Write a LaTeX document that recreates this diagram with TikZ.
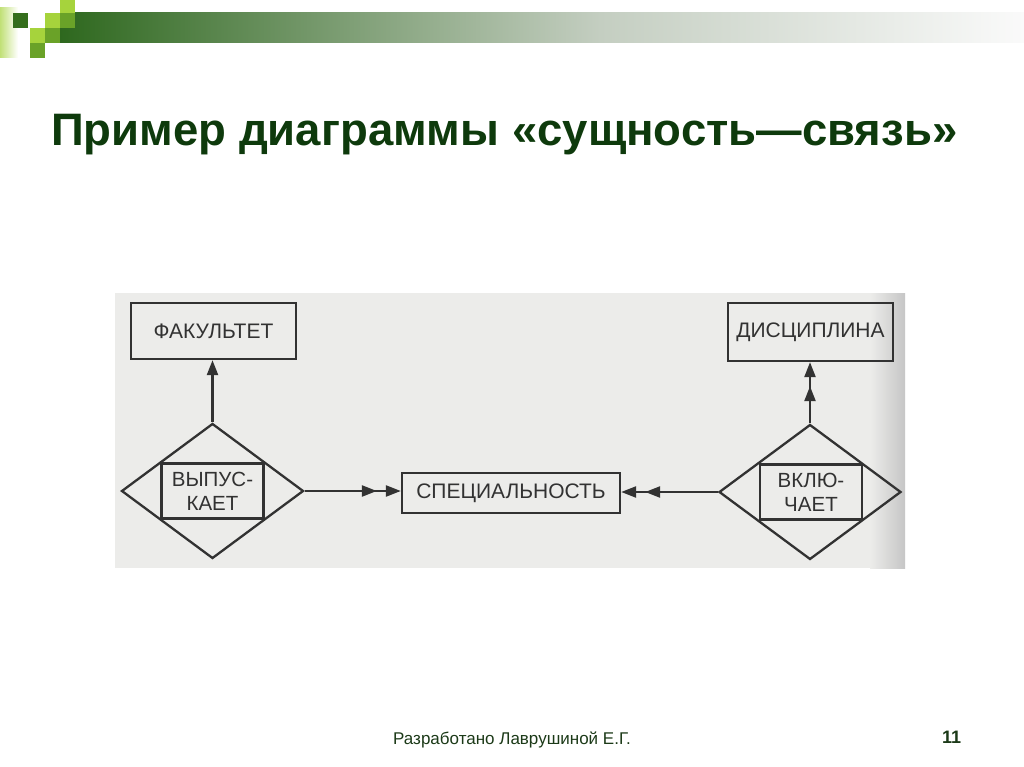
\documentclass[tikz,border=0pt]{standalone}
\usepackage{fontspec}
\setmainfont{Liberation Sans}
\usetikzlibrary{arrows.meta,shapes.geometric}
\definecolor{ttl_green}{RGB}{14, 58, 12}
\definecolor{ftr_green}{RGB}{28, 58, 24}
\definecolor{bar_dark}{RGB}{46, 104, 30}
\definecolor{bar_mid}{RGB}{196, 206, 193}
\definecolor{bar_end}{RGB}{250, 250, 250}
\definecolor{sq_dark}{RGB}{52, 110, 28}
\definecolor{sq_mid}{RGB}{106, 162, 40}
\definecolor{sq_light}{RGB}{166, 211, 60}
\definecolor{photo_gray}{RGB}{236, 236, 234}
\definecolor{ink_gray}{RGB}{50, 50, 50}
\tikzstyle{ent}=[rectangle,draw=ink_gray,line width=2.3pt,text=ink_gray,
  font=\fontsize{21}{24}\selectfont,inner sep=0pt]
\tikzstyle{rel}=[diamond,draw=ink_gray,line width=2.3pt,inner sep=0pt,
  minimum width=182pt,minimum height=135pt]
\tikzstyle{verb}=[rectangle,draw=ink_gray,line width=2.3pt,text=ink_gray,align=center,
  font=\fontsize{20.5}{24}\selectfont,minimum width=102pt,minimum height=55pt,inner sep=0pt]
\tikzstyle{one}=[draw=ink_gray,line width=2.3pt,-{Triangle[length=15pt,width=11pt]}]
\tikzstyle{two}=[draw=ink_gray,line width=2.3pt,
  -{Triangle[length=15pt,width=11pt,sep=9pt]Triangle[length=15pt,width=11pt]}]
\tikzstyle{none}=[]

\begin{document}
\begin{tikzpicture}[x=1pt, y=-1pt]
            \fill [white] (0, 0) rectangle (1024, 767);
            \useasboundingbox (0, 0) rectangle (1024, 767);
            \shade [left color=bar_dark, right color=bar_mid] (60, 13) rectangle (600, 43);
            \shade [left color=bar_mid, right color=bar_end] (600, 13) rectangle (1024, 43);
            \shade [left color=sq_light!70, right color=white] (0, 8) rectangle (18, 58);
            \fill [sq_dark] (13, 13) rectangle (28, 28);
            \fill [sq_light] (45, 13) rectangle (60, 28);
            \fill [sq_light] (60, 0) rectangle (75, 13);
            \fill [sq_mid] (60, 13) rectangle (75, 28);
            \fill [sq_light] (30, 28) rectangle (45, 43);
            \fill [sq_mid] (45, 28) rectangle (60, 43);
            \fill [sq_mid] (30, 43) rectangle (45, 58);
            \node [anchor=base west, inner sep=0pt, text=ttl_green, font=\bfseries\fontsize{45.5}{54}\selectfont] (9) at (51, 146) {Пример диаграммы «сущность—связь»};
            \fill [photo_gray] (115, 293) rectangle (905, 568);
            \shade [left color=photo_gray, right color=gray!45] (870, 293) rectangle (905, 568);
            \node [style=ent, minimum width=165pt, minimum height=56pt] (0) at (213.5, 331) {ФАКУЛЬТЕТ};
            \node [style=ent, minimum width=165pt, minimum height=58pt] (1) at (810.5, 332) {ДИСЦИПЛИНА};
            \node [style=ent, minimum width=218pt, minimum height=40pt] (2) at (511, 493) {СПЕЦИАЛЬНОСТЬ};
            \node [style=rel] (3) at (212.5, 491) {};
            \node [style=verb] (4) at (212.5, 491) {ВЫПУС-\\КАЕТ};
            \node [style=rel] (5) at (810, 492) {};
            \node [style=verb] (6) at (811, 492) {ВКЛЮ-\\ЧАЕТ};
            \draw [style=one] (3.north) to (3.north |- 0.south);
            \draw [style=two] (3.east) to (3.east -| 2.west);
            \draw [style=two] (5.west) to (5.west -| 2.east);
            \draw [style=two] (5.north) to (5.north |- 1.south);
            \node [anchor=base west, inner sep=0pt, text=ftr_green, font=\fontsize{17}{20}\selectfont] (7) at (393, 744) {Разработано Лаврушиной Е.Г.};
            \node [anchor=base west, inner sep=0pt, text=ftr_green, font=\bfseries\fontsize{18}{20}\selectfont] (8) at (942, 743) {11};
    \end{tikzpicture}
\end{document}
